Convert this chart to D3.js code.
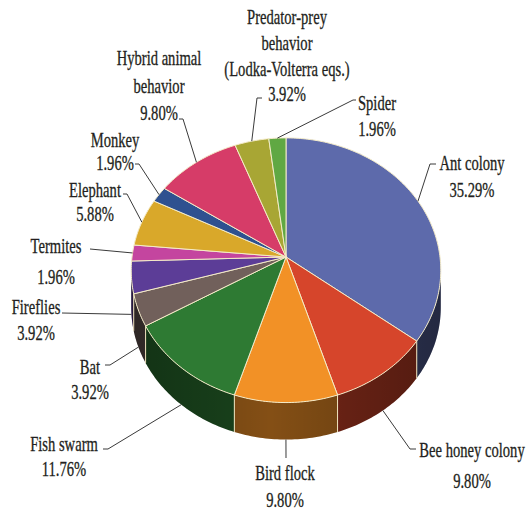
<!DOCTYPE html>
<html>
<head>
<meta charset="utf-8">
<script src="https://cdn.jsdelivr.net/npm/d3@7"></script>
<style>
  html, body { margin: 0; padding: 0; background: #ffffff; }
  svg { display: block; }
</style>
</head>
<body>
<svg id="chart" width="526" height="514"></svg>
<script>
// ---- data ----
const categories = ["Ant colony", "Bee honey colony", "Bird flock", "Fish swarm", "Bat", "Fireflies",
  "Termites", "Elephant", "Monkey", "Hybrid animal behavior",
  "Predator-prey behavior (Lodka-Volterra eqs.)", "Spider"];
const values = [35.29, 9.80, 9.80, 11.76, 3.92, 3.92, 1.96, 5.88, 1.96, 9.80, 3.92, 1.96];
const labelLines = [["Ant colony"], ["Bee honey colony"], ["Bird flock"], ["Fish swarm"], ["Bat"],
  ["Fireflies"], ["Termites"], ["Elephant"], ["Monkey"], ["Hybrid animal", "behavior"],
  ["Predator-prey", "behavior", "(Lodka-Volterra eqs.)"], ["Spider"]];
const colors = ["#5d6aab", "#d6452b", "#f29126", "#2e7a33", "#71605b", "#5c3d97",
  "#c4459f", "#d9a82a", "#2f5190", "#d63c68", "#a8a634", "#60a843"];

// ---- layout (label anchors: center x, baselines; leader elbows; leader ends on side?) ----
const labelPos = [
  {cx: 472, ys: [170, 197]},
  {cx: 472, ys: [457, 488]},
  {cx: 285, ys: [480, 507]},
  {cx: 64,  ys: [451, 476]},
  {cx: 90,  ys: [374, 399]},
  {cx: 36,  ys: [314, 340]},
  {cx: 56,  ys: [253, 284]},
  {cx: 95,  ys: [197, 221]},
  {cx: 115, ys: [147, 170]},
  {cx: 159, ys: [65, 93, 120]},
  {cx: 287, ys: [24, 50, 76, 101]},
  {cx: 377, ys: [110, 136]}
];
const leaderElbows = [
  [[430, 164], [436, 164]],
  [[410, 449], [416, 449]],
  [[286, 458]],
  [[108, 449], [103, 449]],
  [[110, 365], [105, 365]],
  [[62, 313]],
  [[90, 249]],
  [[127, 194], [123, 194]],
  [[139, 164], [135, 164]],
  [[183, 119], [179, 119]],
  [[257, 98], [262, 98]],
  [[353, 100], [356, 100]]
];
const leaderOnSide = [false, true, true, true, true, true, false, false, false, false, false, false];

// ---- geometry ----
const CX = 286, CY = 257, RX = 154, RY = 131, PERSP = 0.1, DEPTH = 37;
function proj(theta, d) {
  const c = Math.cos(theta), s = Math.sin(theta);
  const den = 1 + PERSP * c;
  return [CX + RX * s / den, CY - RY * c / den + d];
}
function arcPts(a0, a1, d) {
  const n = Math.max(2, Math.ceil(Math.abs(a1 - a0) / (Math.PI / 180)));
  return d3.range(n + 1).map(i => proj(a0 + (a1 - a0) * i / n, d));
}

const svg = d3.select("#chart");
const color = d3.scaleOrdinal().domain(categories).range(colors);
const pie = d3.pie().sort(null).value(d => d.value);
const arcs = pie(categories.map((c, i) => ({name: c, value: values[i], idx: i})));
const line = d3.line();
const fmt = d => d3.format(".2f")(d) + "%";

// gradient for side shading
const defs = svg.append("defs");
const grad = defs.append("linearGradient").attr("id", "sideShade")
  .attr("gradientUnits", "userSpaceOnUse")
  .attr("x1", CX - RX).attr("x2", CX + RX).attr("y1", 0).attr("y2", 0);
grad.append("stop").attr("offset", "0%").attr("stop-color", "#000").attr("stop-opacity", 0.25);
grad.append("stop").attr("offset", "45%").attr("stop-color", "#000").attr("stop-opacity", 0);
grad.append("stop").attr("offset", "100%").attr("stop-color", "#000").attr("stop-opacity", 0.3);

const visA = Math.acos(-PERSP), visB = 2 * Math.PI - Math.acos(-PERSP);

// side walls
const sideG = svg.append("g");
arcs.forEach(a => {
  const s = Math.max(a.startAngle, visA), e = Math.min(a.endAngle, visB);
  if (e <= s) return;
  const top = arcPts(s, e, 0);
  const bot = arcPts(e, s, DEPTH);
  const pts = top.concat(bot);
  const base = d3.color(color(a.data.name)).darker(1.7);
  sideG.append("path").attr("d", line(pts) + "Z").attr("fill", base);
  sideG.append("path").attr("d", line(pts) + "Z").attr("fill", "url(#sideShade)");
});
// vertical edges on side
arcs.forEach(a => {
  const ang = a.startAngle;
  if (ang > visA && ang < visB) {
    sideG.append("path").attr("d", line([proj(ang, 0), proj(ang, DEPTH)]))
      .attr("stroke", "#efe3bd").attr("stroke-width", 1).attr("fill", "none");
  }
});

// top faces
const topG = svg.append("g");
arcs.forEach(a => {
  const pts = [[CX, CY]].concat(arcPts(a.startAngle, a.endAngle, 0));
  topG.append("path").attr("d", line(pts) + "Z")
    .attr("fill", color(a.data.name))
    .attr("stroke", "#f4ebc8").attr("stroke-width", 1).attr("stroke-linejoin", "round");
});

// leader lines
const leadG = svg.append("g");
arcs.forEach((a, i) => {
  const mid = (a.startAngle + a.endAngle) / 2;
  const start = proj(mid, leaderOnSide[i] ? DEPTH : 0);
  leadG.append("path").attr("d", line([start].concat(leaderElbows[i])))
    .attr("fill", "none").attr("stroke", "#3a3a3a").attr("stroke-width", 1);
});

// labels
const textG = svg.append("g")
  .attr("font-family", "'Liberation Serif', 'DejaVu Serif', serif")
  .attr("font-size", 20).attr("fill", "#231f20").attr("text-anchor", "middle")
  .attr("stroke", "#231f20").attr("stroke-width", 0.3);
arcs.forEach((a, i) => {
  const lines = labelLines[i].concat([fmt(values[i])]);
  const lp = labelPos[i];
  lines.forEach((t, k) => {
    textG.append("text")
      .attr("transform", `translate(${lp.cx},${lp.ys[k]}) scale(0.73,1)`)
      .text(t);
  });
});
</script>
</body>
</html>
